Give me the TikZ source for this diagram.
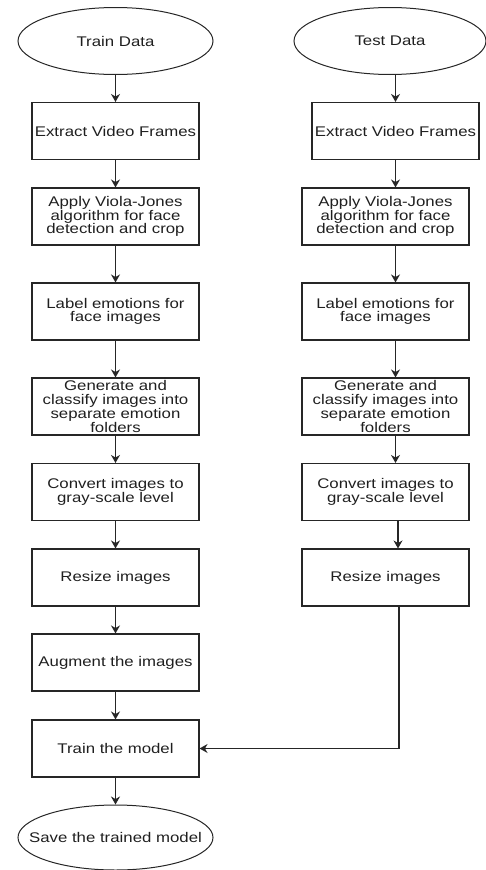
\documentclass[tikz,border=0pt]{standalone}
\usepackage{fontspec}
\setmainfont[FakeStretch=1.2]{Liberation Sans}
\usetikzlibrary{shapes.geometric,arrows.meta}

\tikzset{
  flow/.style={
    x=1pt, y=-1pt,
    every node/.style={font=\fontsize{14}{13.7}\selectfont, text=black!88, align=center},
    stepbox/.style={
        draw=black!85,
        line width=1.1pt,
        minimum width=167pt,
        minimum height=57pt,
        inner sep=2pt,
    },
    terminal/.style={
        draw=black!85,
        shape=ellipse,
        line width=1pt,
        minimum width=195pt,
        minimum height=67pt,
        inner sep=0pt,
    },
    arr/.style={draw=black!85, line width=1.1pt, -{Stealth[length=8pt,width=9pt]}}
  }
}

\begin{document}
\begin{tikzpicture}[flow]
            \useasboundingbox (0,0) rectangle (485,870);
            % train column
            \node[terminal] (trainD) at (115.5,41)  {Train Data};
            \node[stepbox] (extL)  at (115.5,131)   {Extract Video Frames};
            \node[stepbox] (applyL) at (115.5,216.5) {Apply Viola-Jones\\algorithm for face\\detection and crop};
            \node[stepbox] (labL)  at (115.5,311.5) {Label emotions for\\face images};
            \node[stepbox] (genL)  at (115.5,406.5) {Generate and\\classify images into\\separate emotion\\folders};
            \node[stepbox] (convL) at (115.5,492)   {Convert images to\\gray-scale level};
            \node[stepbox] (resL)  at (115.5,577.5) {Resize images};
            \node[stepbox] (aug)   at (115.5,662.5) {Augment the images};
            \node[stepbox] (train) at (115.5,748.5) {Train the model};
            \node[terminal, inner xsep=-22pt, minimum height=65pt] (save) at (115.5,837.5) {Save the trained model};

            % test column
            \node[terminal, minimum width=192pt] (testD) at (390,41) {Test Data};
            \node[stepbox] (extR)  at (395.5,131)   {Extract Video Frames};
            \node[stepbox] (applyR) at (385.5,216.5) {Apply Viola-Jones\\algorithm for face\\detection and crop};
            \node[stepbox] (labR)  at (385.5,311.5) {Label emotions for\\face images};
            \node[stepbox] (genR)  at (385.5,406.5) {Generate and\\classify images into\\separate emotion\\folders};
            \node[stepbox] (convR) at (385.5,492)   {Convert images to\\gray-scale level};
            \node[stepbox] (resR)  at (385.5,577.5) {Resize images};

            \draw[arr] (trainD) -- (extL);
            \draw[arr] (extL) -- (applyL);
            \draw[arr] (applyL) -- (labL);
            \draw[arr] (labL) -- (genL);
            \draw[arr] (genL) -- (convL);
            \draw[arr] (convL) -- (resL);
            \draw[arr] (resL) -- (aug);
            \draw[arr] (aug) -- (train);
            \draw[arr] (train) -- (save);

            \draw[arr] (extR.north |- testD.south) -- (extR.north);
            \draw[arr] (extR.south) -- (extR.south |- applyR.north);
            \draw[arr] ([xshift=10pt]applyR.south) -- ([xshift=10pt]labR.north);
            \draw[arr] ([xshift=10pt]labR.south) -- ([xshift=10pt]genR.north);
            \draw[arr] ([xshift=10pt]genR.south) -- ([xshift=10pt]convR.north);
            \draw[arr] ([xshift=12.5pt]convR.south) -- ([xshift=12.5pt]resR.north);
            \draw[arr] ([xshift=13.5pt]resR.south) |- (train.east);
\end{tikzpicture}
\end{document}
